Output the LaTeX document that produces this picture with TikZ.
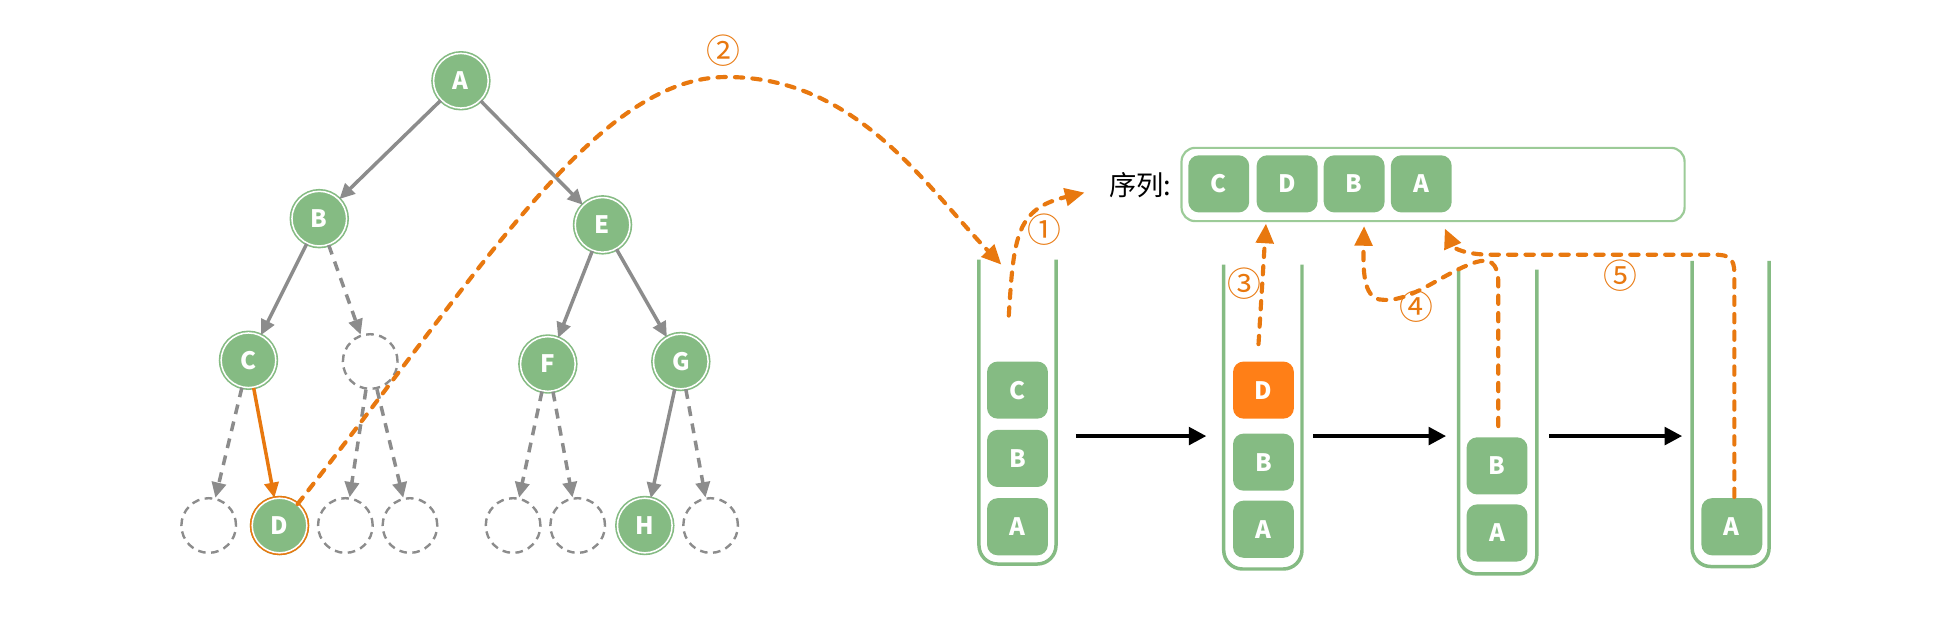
\documentclass[tikz,border=0pt]{standalone}
\usepackage{fontspec}
\setmainfont{Noto Sans CJK SC}
\usetikzlibrary{arrows.meta}
\definecolor{tgreen}{HTML}{85BB83}
\definecolor{tgreenl}{HTML}{9CCB98}
\definecolor{tgray}{HTML}{8C8C8C}
\definecolor{torange}{HTML}{E8780F}
\definecolor{tfill}{HTML}{FF7F17}
\begin{document}
\begin{tikzpicture}[x=0.02cm,y=-0.02cm,
  tnode/.style={circle, minimum size=0.88cm, inner sep=0pt,
    preaction={draw=tgreen, line width=2.2pt},
    fill=tgreen, draw=white, line width=0.7pt, text=white,
    font=\fontsize{11}{13}\selectfont\bfseries},
  dnode/.style={tnode, preaction={draw=torange, line width=2.2pt}},
  enode/.style={circle, minimum size=0.88cm, inner sep=0pt,
    draw=tgray, line width=1.1pt, dash pattern=on 3.5pt off 2.5pt},
  tedge/.style={draw=tgray, line width=1.6pt, -{Triangle[length=7pt,width=6.5pt]}},
  tdash/.style={tedge, dash pattern=on 4.5pt off 3.5pt},
  sbox/.style={rectangle, rounded corners=0.17cm, fill=tgreen, minimum width=0.98cm,
    minimum height=0.92cm, inner sep=0pt, text=white, font=\fontsize{11}{13}\selectfont\bfseries},
  obox/.style={sbox, fill=tfill},
  wall/.style={draw=tgreen, line width=1.6pt, rounded corners=0.3cm},
  barrow/.style={draw=black, line width=1.8pt, -{Triangle[length=8pt,width=8pt]}},
  odash/.style={draw=torange, line width=1.9pt, line cap=round, dash pattern=on 3.8pt off 4.2pt,
    -{Triangle[length=9pt,width=8pt]}},
  olabel/.style={text=torange, inner sep=0pt, font=\fontsize{15.5}{17}\selectfont}
]
\useasboundingbox (0,0) rectangle (1568,506);

% ---------- tree ----------
\node[tnode] (tA) at (371,65) {A};
\node[tnode] (tB) at (257,176) {B};
\node[tnode] (tE) at (485,181) {E};
\node[tnode] (tC) at (200,290) {C};
\node[enode] (e1) at (298,291) {};
\node[tnode] (tF) at (441,293) {F};
\node[tnode] (tG) at (548,291) {G};
\node[enode] (e2) at (168,423) {};
\node[dnode] (tD) at (225,423) {D};
\node[enode] (e3) at (278,423) {};
\node[enode] (e4) at (330,423) {};
\node[enode] (e5) at (413,423) {};
\node[enode] (e6) at (465,423) {};
\node[tnode] (tH) at (519,423) {H};
\node[enode] (e7) at (572,423) {};

\draw[tedge] (tA) -- (tB);
\draw[tedge] (tA) -- (tE);
\draw[tedge] (tB) -- (tC);
\draw[tdash] (tB) -- (e1);
\draw[tedge] (tE) -- (tF);
\draw[tedge] (tE) -- (tG);
\draw[tdash] (tC) -- (e2);
\draw[tedge, draw=torange] (tC) -- (tD);
\draw[tdash] (e1) -- (e3);
\draw[tdash] (e1) -- (e4);
\draw[tdash] (tF) -- (e5);
\draw[tdash] (tF) -- (e6);
\draw[tedge] (tG) -- (tH);
\draw[tdash] (tG) -- (e7);

% ---------- stacks ----------
\draw[wall] (788,209) -- (788,454) -- (850,454) -- (850,209);
\draw[wall] (985,213) -- (985,458) -- (1048,458) -- (1048,213);
\draw[wall] (1174,217) -- (1174,462) -- (1237,462) -- (1237,217);
\draw[wall] (1362,210) -- (1362,456) -- (1424,456) -- (1424,210);

\node[sbox] (s1C) at (819,314) {C};
\node[sbox] (s1B) at (819,369) {B};
\node[sbox] (s1A) at (819,424) {A};
\node[obox] (s2D) at (1017,314) {D};
\node[sbox] (s2B) at (1017,372) {B};
\node[sbox] (s2A) at (1017,426) {A};
\node[sbox] (s3B) at (1205,375) {B};
\node[sbox] (s3A) at (1205,429) {A};
\node[sbox] (s4A) at (1394,424) {A};

\coordinate (a1s) at (866,351); \coordinate (a1e) at (971,351);
\coordinate (a2s) at (1057,351); \coordinate (a2e) at (1164,351);
\coordinate (a3s) at (1247,351); \coordinate (a3e) at (1354,351);
\draw[barrow] (a1s) -- (a1e);
\draw[barrow] (a2s) -- (a2e);
\draw[barrow] (a3s) -- (a3e);

% ---------- sequence ----------
\node[draw=tgreenl, line width=1pt, rounded corners=0.22cm, minimum width=8.1cm,
  minimum height=1.18cm, inner sep=0pt] (seq) at (1153.5,148.5) {};
\node[inner sep=0pt, font=\fontsize{12.5}{14}\selectfont] (seqlab) at (918,149) {序列:};
\node[sbox] (qC) at (981,148) {C};
\node[sbox] (qD) at (1036,148) {D};
\node[sbox] (qB) at (1090,148) {B};
\node[sbox] (qA) at (1144,148) {A};

% ---------- orange paths ----------
\coordinate (p2e) at (806,213);
\draw[odash] (tD.50) .. controls (390,215) and (480,62) .. (585,62)
   .. controls (690,62) and (745,150) .. (p2e);
\node[olabel] (l2) at (582,41) {②};

\coordinate (p1s) at (812,254); \coordinate (p1e) at (873,155);
\draw[odash] (p1s) .. controls (816,190) and (818,168) .. (p1e);
\node[olabel] (l1) at (841,185) {①};

\coordinate (p3s) at (1013,277); \coordinate (p3e) at (1019,180);
\draw[odash] (p3s) -- (p3e);
\node[olabel] (l3) at (1002,228) {③};

\coordinate (p4s) at (1206,343); \coordinate (p4e) at (1098,182);
\draw[odash] (p4s) -- (1206,228) .. controls (1206,210) and (1198,208) .. (1188,211)
   .. controls (1160,220) and (1135,245) .. (1110,241)
   .. controls (1098,238) and (1097,220) .. (p4e);
\node[olabel] (l4) at (1140,247) {④};

\coordinate (p5s) at (1396,400); \coordinate (p5e) at (1163,184);
\draw[odash] (p5s) -- (1396,220) .. controls (1396,208) and (1392,205) .. (1380,205)
   -- (1200,205) .. controls (1180,205) and (1170,200) .. (p5e);
\node[olabel] (l5) at (1304,222) {⑤};
\end{tikzpicture}
\end{document}
